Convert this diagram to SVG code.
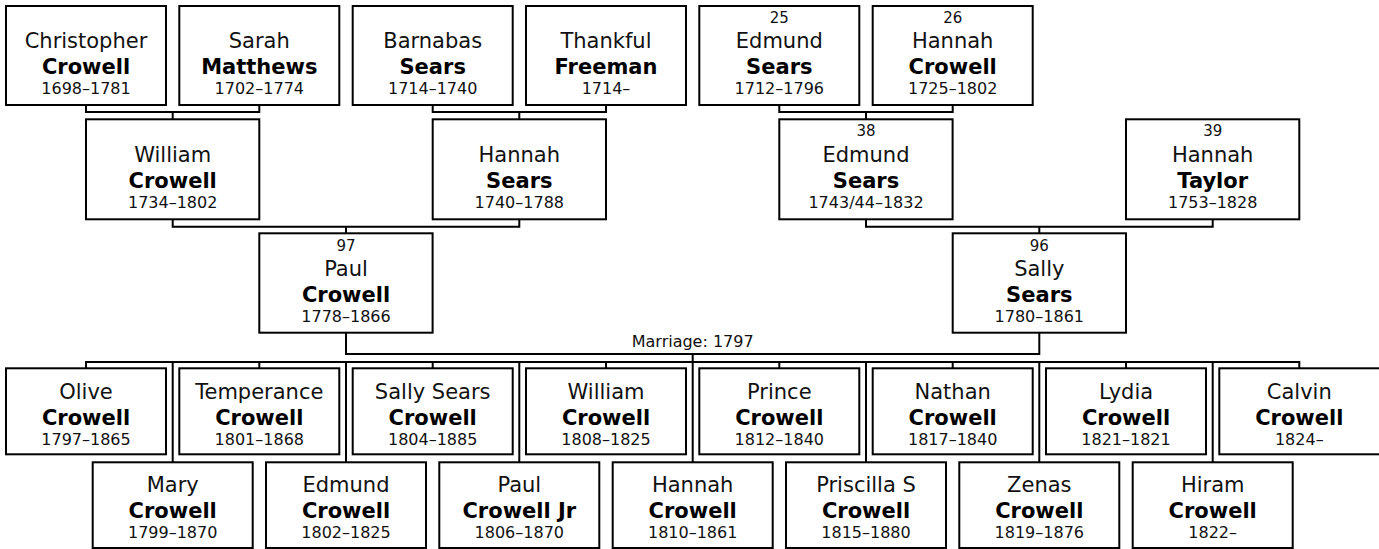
<svg xmlns="http://www.w3.org/2000/svg" width="1379" height="549" viewBox="0 0 1379 549">
<style>
.box{fill:#fff;stroke:#000;stroke-width:2}
text{font-family:"DejaVu Sans",Verdana,sans-serif;text-anchor:middle;fill:#111}
.num{font-size:15px}
.fn{font-size:21px}
.sn{font-size:21px;font-weight:bold;fill:#000}
.dt{font-size:16px}
.lbl{font-size:16px}
.con{fill:none;stroke:#000;stroke-width:2}
</style>
<rect width="1379" height="549" fill="#fff"/>
<g id="connectors" class="con">
<path d="M86,105V112H259.3V105M172.7,112V119.3"/>
<path d="M432.7,105V112H606V105M519.3,112V119.3"/>
<path d="M779.3,105V112H952.7V105M866,112V119.3"/>
<path d="M172.7,219.3V226.7H519.3V219.3M346,226.7V233.3"/>
<path d="M866,219.3V226.7H1212.7V219.3M1039.3,226.7V233.3"/>
<path d="M346,332.7V354H1039.3V332.7M692.7,354V362"/>
<path d="M86,368.3V362H1299.3V368.3M259.3,362V368.3M432.7,362V368.3M606,362V368.3M779.3,362V368.3M952.7,362V368.3M1126,362V368.3"/>
<path d="M172.7,362V462.3M346,362V462.3M519.3,362V462.3M692.7,362V462.3M866,362V462.3M1039.3,362V462.3M1212.7,362V462.3"/>
<text class="lbl" x="692.7" y="347" stroke="none">Marriage: 1797</text>
</g>
<g id="christopher"><rect class="box" x="6" y="6" width="160" height="99"/><text class="fn" x="86" y="48">Christopher</text><text class="sn" x="86" y="74">Crowell</text><text class="dt" x="86" y="93.5">1698–1781</text></g>
<g id="sarah"><rect class="box" x="179.3" y="6" width="160" height="99"/><text class="fn" x="259.3" y="48">Sarah</text><text class="sn" x="259.3" y="74">Matthews</text><text class="dt" x="259.3" y="93.5">1702–1774</text></g>
<g id="barnabas"><rect class="box" x="352.7" y="6" width="160" height="99"/><text class="fn" x="432.7" y="48">Barnabas</text><text class="sn" x="432.7" y="74">Sears</text><text class="dt" x="432.7" y="93.5">1714–1740</text></g>
<g id="thankful"><rect class="box" x="526" y="6" width="160" height="99"/><text class="fn" x="606" y="48">Thankful</text><text class="sn" x="606" y="74">Freeman</text><text class="dt" x="606" y="93.5">1714–</text></g>
<g id="edmund25"><rect class="box" x="699.3" y="6" width="160" height="99"/><text class="num" x="779.3" y="23">25</text><text class="fn" x="779.3" y="48">Edmund</text><text class="sn" x="779.3" y="74">Sears</text><text class="dt" x="779.3" y="93.5">1712–1796</text></g>
<g id="hannah26"><rect class="box" x="872.7" y="6" width="160" height="99"/><text class="num" x="952.7" y="23">26</text><text class="fn" x="952.7" y="48">Hannah</text><text class="sn" x="952.7" y="74">Crowell</text><text class="dt" x="952.7" y="93.5">1725–1802</text></g>
<g id="william1734"><rect class="box" x="86" y="119.3" width="173.3" height="100"/><text class="fn" x="172.7" y="161.7">William</text><text class="sn" x="172.7" y="187.7">Crowell</text><text class="dt" x="172.7" y="207.5">1734–1802</text></g>
<g id="hannahsears"><rect class="box" x="432.7" y="119.3" width="173.3" height="100"/><text class="fn" x="519.3" y="161.7">Hannah</text><text class="sn" x="519.3" y="187.7">Sears</text><text class="dt" x="519.3" y="207.5">1740–1788</text></g>
<g id="edmund38"><rect class="box" x="779.3" y="119.3" width="173.3" height="100"/><text class="num" x="866" y="136.3">38</text><text class="fn" x="866" y="161.7">Edmund</text><text class="sn" x="866" y="187.7">Sears</text><text class="dt" x="866" y="207.5">1743/44–1832</text></g>
<g id="hannah39"><rect class="box" x="1126" y="119.3" width="173.3" height="100"/><text class="num" x="1212.7" y="136.3">39</text><text class="fn" x="1212.7" y="161.7">Hannah</text><text class="sn" x="1212.7" y="187.7">Taylor</text><text class="dt" x="1212.7" y="207.5">1753–1828</text></g>
<g id="paul97"><rect class="box" x="259.3" y="233.3" width="173.3" height="99.4"/><text class="num" x="346" y="250.5">97</text><text class="fn" x="346" y="276">Paul</text><text class="sn" x="346" y="302">Crowell</text><text class="dt" x="346" y="321.7">1778–1866</text></g>
<g id="sally96"><rect class="box" x="952.7" y="233.3" width="173.3" height="99.4"/><text class="num" x="1039.3" y="250.5">96</text><text class="fn" x="1039.3" y="276">Sally</text><text class="sn" x="1039.3" y="302">Sears</text><text class="dt" x="1039.3" y="321.7">1780–1861</text></g>
<g id="olive"><rect class="box" x="6" y="368.3" width="160" height="86"/><text class="fn" x="86" y="399">Olive</text><text class="sn" x="86" y="425">Crowell</text><text class="dt" x="86" y="445">1797–1865</text></g>
<g id="temperance"><rect class="box" x="179.3" y="368.3" width="160" height="86"/><text class="fn" x="259.3" y="399">Temperance</text><text class="sn" x="259.3" y="425">Crowell</text><text class="dt" x="259.3" y="445">1801–1868</text></g>
<g id="sallysears"><rect class="box" x="352.7" y="368.3" width="160" height="86"/><text class="fn" x="432.7" y="399">Sally Sears</text><text class="sn" x="432.7" y="425">Crowell</text><text class="dt" x="432.7" y="445">1804–1885</text></g>
<g id="william1808"><rect class="box" x="526" y="368.3" width="160" height="86"/><text class="fn" x="606" y="399">William</text><text class="sn" x="606" y="425">Crowell</text><text class="dt" x="606" y="445">1808–1825</text></g>
<g id="prince"><rect class="box" x="699.3" y="368.3" width="160" height="86"/><text class="fn" x="779.3" y="399">Prince</text><text class="sn" x="779.3" y="425">Crowell</text><text class="dt" x="779.3" y="445">1812–1840</text></g>
<g id="nathan"><rect class="box" x="872.7" y="368.3" width="160" height="86"/><text class="fn" x="952.7" y="399">Nathan</text><text class="sn" x="952.7" y="425">Crowell</text><text class="dt" x="952.7" y="445">1817–1840</text></g>
<g id="lydia"><rect class="box" x="1046" y="368.3" width="160" height="86"/><text class="fn" x="1126" y="399">Lydia</text><text class="sn" x="1126" y="425">Crowell</text><text class="dt" x="1126" y="445">1821–1821</text></g>
<g id="calvin"><rect class="box" x="1219.3" y="368.3" width="162" height="86"/><text class="fn" x="1299.3" y="399">Calvin</text><text class="sn" x="1299.3" y="425">Crowell</text><text class="dt" x="1299.3" y="445">1824–</text></g>
<g id="mary"><rect class="box" x="92.7" y="462.3" width="160" height="85.7"/><text class="fn" x="172.7" y="492">Mary</text><text class="sn" x="172.7" y="518">Crowell</text><text class="dt" x="172.7" y="538">1799–1870</text></g>
<g id="edmund1802"><rect class="box" x="266" y="462.3" width="160" height="85.7"/><text class="fn" x="346" y="492">Edmund</text><text class="sn" x="346" y="518">Crowell</text><text class="dt" x="346" y="538">1802–1825</text></g>
<g id="pauljr"><rect class="box" x="439.3" y="462.3" width="160" height="85.7"/><text class="fn" x="519.3" y="492">Paul</text><text class="sn" x="519.3" y="518">Crowell Jr</text><text class="dt" x="519.3" y="538">1806–1870</text></g>
<g id="hannah1810"><rect class="box" x="612.7" y="462.3" width="160" height="85.7"/><text class="fn" x="692.7" y="492">Hannah</text><text class="sn" x="692.7" y="518">Crowell</text><text class="dt" x="692.7" y="538">1810–1861</text></g>
<g id="priscilla"><rect class="box" x="786" y="462.3" width="160" height="85.7"/><text class="fn" x="866" y="492">Priscilla S</text><text class="sn" x="866" y="518">Crowell</text><text class="dt" x="866" y="538">1815–1880</text></g>
<g id="zenas"><rect class="box" x="959.3" y="462.3" width="160" height="85.7"/><text class="fn" x="1039.3" y="492">Zenas</text><text class="sn" x="1039.3" y="518">Crowell</text><text class="dt" x="1039.3" y="538">1819–1876</text></g>
<g id="hiram"><rect class="box" x="1132.7" y="462.3" width="160" height="85.7"/><text class="fn" x="1212.7" y="492">Hiram</text><text class="sn" x="1212.7" y="518">Crowell</text><text class="dt" x="1212.7" y="538">1822–</text></g>
</svg>
